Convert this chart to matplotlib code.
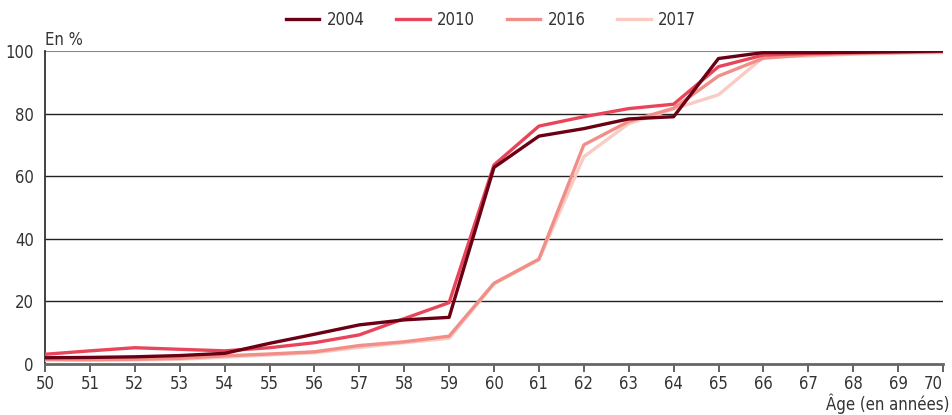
import matplotlib
matplotlib.use("Agg")
import matplotlib.pyplot as plt

ages = list(range(50, 71))
s2004 = [2.0, 2.1, 2.3, 2.7, 3.4, 6.6, 9.5, 12.5, 14.1, 14.9, 62.8, 72.8, 75.2, 78.3, 79.0, 97.6, 99.5, 99.5, 99.6, 99.8, 100.0]
s2010 = [3.1, 4.2, 5.2, 4.7, 4.2, 5.2, 6.8, 9.3, 14.5, 19.6, 63.6, 76.0, 79.0, 81.6, 83.0, 95.0, 98.7, 99.2, 99.5, 99.7, 99.9]
s2016 = [1.5, 1.4, 1.5, 1.8, 2.6, 3.2, 3.9, 5.9, 7.1, 8.9, 25.8, 33.5, 70.0, 77.5, 81.7, 92.0, 97.7, 98.8, 99.2, 99.5, 99.7]
s2017 = [1.2, 1.2, 1.3, 1.5, 2.2, 2.9, 3.6, 5.3, 6.8, 8.2, 25.6, 33.3, 66.2, 76.8, 81.5, 86.0, 98.0, 98.4, 99.0, 99.3, 99.5]
series = [("2004", s2004, "#6b0015"), ("2010", s2010, "#e9455a"),
          ("2016", s2016, "#f28e88"), ("2017", s2017, "#f9cbc3")]
yticks = [0, 20, 40, 60, 80, 100]

plt.rcParams['font.family'] = ['DejaVu Sans']
plt.rcParams['font.stretch'] = 'condensed'
txt = "#333333"

fig = plt.figure(figsize=(9.52, 4.15), dpi=100)
ax = fig.add_axes([45/952, 1-364/415, 898/952, 313/415])

handles = []
for i, (name, vals, col) in enumerate(series):
    ln, = ax.plot(ages, vals, color=col, lw=2.4, zorder=10 - i, label=name)
    handles.append(ln)

ax.set_xlim(50, 70)
ax.set_ylim(0, 100)
ax.set_xticks(ages)
ax.set_yticks(yticks)
for y in yticks[1:-1]:
    ax.axhline(y, color="#222222", lw=1.0, zorder=1)
ax.axhline(100, color="#888888", lw=1.5, zorder=1)

for s in ["top", "right"]:
    ax.spines[s].set_visible(False)
ax.spines["left"].set_color("#333333")
ax.spines["left"].set_linewidth(1.3)
ax.spines["bottom"].set_color("#666666")
ax.spines["bottom"].set_linewidth(2)
ax.tick_params(axis="x", direction="out", length=6, width=1.3, color="#555555",
               labelsize=12, labelcolor=txt, pad=2)
ax.tick_params(axis="y", length=0, labelsize=12, labelcolor=txt, pad=8)
lbls = ax.get_xticklabels()
lbls[-1].set_horizontalalignment("right")
lbls[-1].set_x(70)

fig.text(45/952, 1-40/415, "En %", fontsize=12, color=txt, ha="left", va="center")
fig.text(949/952, 1-404/415, "Âge (en années)", fontsize=12, color=txt, ha="right", va="center")

fig.legend(handles=handles, loc="center", bbox_to_anchor=(491/952, 1-20/415), ncol=4,
           frameon=False, fontsize=12, handlelength=2.0, columnspacing=1.9,
           handletextpad=0.45, labelcolor=txt)

fig.savefig("out.png", dpi=100)
